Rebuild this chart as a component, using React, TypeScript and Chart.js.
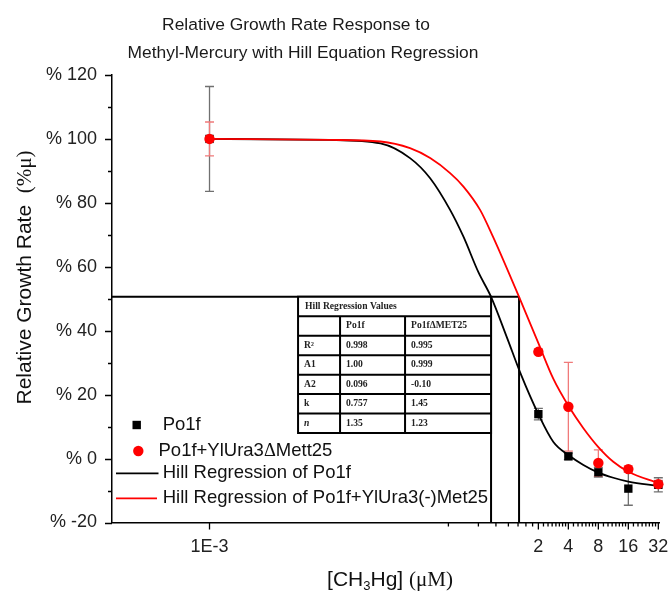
import React, { useEffect, useRef } from 'react';
import { Chart, registerables } from 'chart.js';

Chart.register(...registerables);

// ---------- text ----------
const titleLines = ['Relative Growth Rate Response to', 'Methyl-Mercury with Hill Equation Regression'];
const yTitleSans = 'Relative Growth Rate  ';
const yTitleSerif = '(%μ)';
const xTitleParts = ['[CH', '3', 'Hg] ', '(μM)'];

// ---------- axes ----------
const xMin = 1.05e-4;
const xMax = 32.5;
const xMajorTicks = [0.001, 2, 4, 8, 16, 32];
const xTickLabels = ['1E-3', '2', '4', '8', '16', '32'];
const xMinorTicks = [0.25, 0.5, 0.75, 1, 1.25, 1.5, 1.75,
  2.25, 2.5, 2.75, 3, 3.25, 3.5, 3.75,
  4.5, 5, 5.5, 6, 6.5, 7, 7.5,
  9, 10, 11, 12, 13, 14, 15,
  18, 20, 22, 24, 26, 28, 30];
const yMin = -20;
const yMax = 120;
const yMajorTicks = [-20, 0, 20, 40, 60, 80, 100, 120];
const yMinorTicks = [-10, 10, 30, 50, 70, 90, 110];

// ---------- measured data ----------
const doseX = [0.001, 2, 4, 8, 16, 32];
const po1fY = [100, 13.9, 0.7, -4.3, -9.4, -8.2];
const po1fErr = [16.4, 1.8, 1.0, 1.5, 5.2, 2.2];
const metY = [100, 33.4, 16.2, -1.4, -3.3, -8.0];
const metErr = [5.3, 0.8, 13.9, 4.1, 1.0, 1.2];

// ---------- regression curves ----------
const po1fFitX = [0.001, 0.016, 0.052, 0.103, 0.164, 0.26, 0.354, 0.5, 0.67, 0.964, 1.33, 2, 2.83, 4, 5.66, 8, 11.3, 16, 32];
const po1fFitY = [100, 99.7, 98.6, 94.0, 87.7, 77.8, 69.4, 58.3, 50.6, 38.0, 26.5, 13.9, 5.2, 1.1, -2.0, -4.4, -6.0, -7.2, -8.6];
const metFitX = [0.001, 0.016, 0.052, 0.103, 0.164, 0.26, 0.354, 0.52, 0.7, 1.0, 1.28, 2, 2.83, 4, 5.66, 8, 11.3, 16, 32];
const metFitY = [100, 99.7, 99.2, 97.1, 94.0, 89.3, 85.1, 77.8, 69.4, 58.4, 50.6, 36.1, 24.9, 16.5, 9.5, 3.6, -1.0, -4.1, -7.7];

// half-response drop lines
const dropY = 50.6;
const dropX = [0.67, 1.28];

// ---------- table ----------
const tableTitle = 'Hill Regression Values';
const tableHeader = ['', 'Po1f', 'Po1fΔMET25'];
const tableRowLabels = ['R²', 'A1', 'A2', 'k', 'n'];
const tablePo1f = ['0.998', '1.00', '0.096', '0.757', '1.35'];
const tableMet = ['0.995', '0.999', '-0.10', '1.45', '1.23'];

// ---------- legend ----------
const legendLabels = ['Po1f', 'Po1f+YlUra3ΔMett25', 'Hill Regression of Po1f', 'Hill Regression of Po1f+YlUra3(-)Met25'];

const SANS = "'Liberation Sans', Arial, sans-serif";
const SERIF = "'Liberation Serif', 'Times New Roman', serif";

function pts(xs: number[], ys: number[]) {
  return xs.map((x, i) => ({ x, y: ys[i] }));
}

function drawParts(ctx: CanvasRenderingContext2D, parts: { t: string; f: string; dy?: number }[], x: number, y: number) {
  let cx = x;
  for (const p of parts) {
    ctx.font = p.f;
    ctx.fillText(p.t, cx, y + (p.dy || 0));
    cx += ctx.measureText(p.t).width;
  }
  return cx - x;
}
function measureParts(ctx: CanvasRenderingContext2D, parts: { t: string; f: string }[]) {
  let w = 0;
  for (const p of parts) {
    ctx.font = p.f;
    w += ctx.measureText(p.t).width;
  }
  return w;
}

const overlay = {
  id: 'overlay',
  beforeDatasetsDraw(chart: any) {
    const { ctx, chartArea } = chart;
    const x = chart.scales.x;
    const y = chart.scales.y;
    ctx.save();
    // drop lines
    const yd = y.getPixelForValue(dropY);
    const xb = x.getPixelForValue(dropX[0]);
    const xr = x.getPixelForValue(dropX[1]);
    ctx.strokeStyle = '#000';
    ctx.lineWidth = 2;
    ctx.beginPath();
    ctx.moveTo(chartArea.left, yd);
    ctx.lineTo(xr, yd);
    ctx.moveTo(xb, yd);
    ctx.lineTo(xb, chartArea.bottom);
    ctx.moveTo(xr, yd);
    ctx.lineTo(xr, chartArea.bottom);
    ctx.stroke();

    const drawErr = (vals: number[], errs: number[], color: string) => {
      ctx.strokeStyle = color;
      ctx.lineWidth = 1.3;
      ctx.beginPath();
      doseX.forEach((dx, i) => {
        const px = x.getPixelForValue(dx);
        const top = y.getPixelForValue(vals[i] + errs[i]);
        const bot = y.getPixelForValue(vals[i] - errs[i]);
        ctx.moveTo(px, top);
        ctx.lineTo(px, bot);
        ctx.moveTo(px - 4.5, top);
        ctx.lineTo(px + 4.5, top);
        ctx.moveTo(px - 4.5, bot);
        ctx.lineTo(px + 4.5, bot);
      });
      ctx.stroke();
    };
    drawErr(po1fY, po1fErr, '#707070');
    drawErr(metY, metErr, '#f07a7a');
    ctx.restore();
  },
  afterDraw(chart: any) {
    const { ctx, chartArea } = chart;
    const x = chart.scales.x;
    const y = chart.scales.y;
    ctx.save();

    // tick marks
    ctx.strokeStyle = '#000';
    ctx.lineWidth = 1.3;
    ctx.beginPath();
    yMajorTicks.forEach((v) => {
      const py = Math.round(y.getPixelForValue(v)) + 0.5;
      ctx.moveTo(chartArea.left - 7, py);
      ctx.lineTo(chartArea.left, py);
    });
    yMinorTicks.forEach((v) => {
      const py = Math.round(y.getPixelForValue(v)) + 0.5;
      ctx.moveTo(chartArea.left - 4, py);
      ctx.lineTo(chartArea.left, py);
    });
    xMajorTicks.forEach((v) => {
      const px = x.getPixelForValue(v);
      ctx.moveTo(px, chartArea.bottom);
      ctx.lineTo(px, chartArea.bottom + 7);
    });
    xMinorTicks.forEach((v) => {
      const px = x.getPixelForValue(v);
      ctx.moveTo(px, chartArea.bottom);
      ctx.lineTo(px, chartArea.bottom + 4);
    });
    ctx.stroke();

    // table
    const yd = y.getPixelForValue(dropY);
    const xb = x.getPixelForValue(dropX[0]);
    const widths = [42, 65, 86];
    const tw = widths[0] + widths[1] + widths[2];
    const left = xb - tw;
    const rowH = 19.45;
    const nRows = 2 + tableRowLabels.length;
    const bottom = yd + rowH * nRows;
    ctx.fillStyle = '#fff';
    ctx.fillRect(left, yd, tw, rowH * nRows);
    ctx.strokeStyle = '#000';
    ctx.lineWidth = 2;
    ctx.beginPath();
    ctx.rect(left, yd, tw, rowH * nRows);
    for (let r = 1; r < nRows; r++) {
      ctx.moveTo(left, yd + r * rowH);
      ctx.lineTo(left + tw, yd + r * rowH);
    }
    ctx.moveTo(left + widths[0], yd + rowH);
    ctx.lineTo(left + widths[0], bottom);
    ctx.moveTo(left + widths[0] + widths[1], yd + rowH);
    ctx.lineTo(left + widths[0] + widths[1], bottom);
    ctx.stroke();

    ctx.fillStyle = '#222';
    ctx.textBaseline = 'middle';
    ctx.textAlign = 'left';
    const bold = `bold 9.6px ${SERIF}`;
    ctx.font = bold;
    ctx.fillText(tableTitle, left + 7, yd + rowH / 2);
    const colX = [left + 6, left + widths[0] + 6, left + widths[0] + widths[1] + 6];
    tableHeader.forEach((t, c) => ctx.fillText(t, colX[c], yd + rowH * 1.5));
    tableRowLabels.forEach((lab, r) => {
      const cy = yd + rowH * (r + 2.5);
      ctx.font = lab === 'n' ? `italic bold 9.6px ${SERIF}` : bold;
      ctx.fillText(lab, colX[0], cy);
      ctx.font = bold;
      ctx.fillText(tablePo1f[r], colX[1], cy);
      ctx.fillText(tableMet[r], colX[2], cy);
    });

    // legend
    const lf = `18.5px ${SANS}`;
    const lb = chartArea.bottom;
    const L = chartArea.left;
    ctx.fillStyle = '#000';
    ctx.fillRect(L + 24.7 - 4.2, lb - 97.5 - 4.2, 8.4, 8.4);
    ctx.fillStyle = '#ff0000';
    ctx.beginPath();
    ctx.arc(L + 26.3, lb - 71.5, 5.2, 0, Math.PI * 2);
    ctx.fill();
    ctx.lineWidth = 1.8;
    ctx.strokeStyle = '#000';
    ctx.beginPath();
    ctx.moveTo(L + 4, lb - 49.2);
    ctx.lineTo(L + 46.5, lb - 49.2);
    ctx.stroke();
    ctx.strokeStyle = '#ff0000';
    ctx.beginPath();
    ctx.moveTo(L + 4, lb - 24.2);
    ctx.lineTo(L + 45, lb - 24.2);
    ctx.stroke();
    ctx.fillStyle = '#111';
    ctx.font = lf;
    ctx.fillText(legendLabels[0], L + 50.7, lb - 97.5);
    const redParts = legendLabels[1].split('Δ');
    drawParts(ctx, [
      { t: redParts[0], f: lf },
      { t: 'Δ', f: `18.5px ${SERIF}` },
      { t: redParts[1], f: lf },
    ], L + 46.5, lb - 71.5);
    ctx.font = lf;
    ctx.fillText(legendLabels[2], L + 50.7, lb - 49.2);
    ctx.fillText(legendLabels[3], L + 50.7, lb - 24.2);

    // title
    ctx.fillStyle = '#1a1a1a';
    ctx.textAlign = 'center';
    ctx.font = `17.4px ${SANS}`;
    ctx.fillText(titleLines[0], 296, 25);
    ctx.fillText(titleLines[1], 303, 53);

    // y title
    ctx.textAlign = 'left';
    ctx.fillStyle = '#111';
    const yParts = [
      { t: yTitleSans, f: `21px ${SANS}` },
      { t: yTitleSerif, f: `21px ${SERIF}` },
    ];
    const yw = measureParts(ctx, yParts);
    ctx.save();
    ctx.translate(25, 277.5);
    ctx.rotate(-Math.PI / 2);
    drawParts(ctx, yParts, -yw / 2, 0);
    ctx.restore();

    // x title
    const xParts = [
      { t: xTitleParts[0], f: `21px ${SANS}` },
      { t: xTitleParts[1], f: `13px ${SANS}`, dy: 6 },
      { t: xTitleParts[2], f: `21px ${SANS}` },
      { t: xTitleParts[3], f: `21px ${SERIF}` },
    ];
    const xw = measureParts(ctx, xParts);
    drawParts(ctx, xParts, 390 - xw / 2, 580);

    ctx.restore();
  },
};

export default function App() {
  const ref = useRef<HTMLCanvasElement>(null);
  useEffect(() => {
    const canvas = ref.current;
    if (!canvas) return;
    const chart = new Chart(canvas, {
      type: 'scatter',
      data: {
        datasets: [
          {
            label: legendLabels[1],
            data: pts(doseX, metY),
            showLine: false,
            pointStyle: 'circle',
            pointRadius: 5.2,
            backgroundColor: '#ff0000',
            borderColor: '#ff0000',
            borderWidth: 0,
            order: 0,
            clip: false,
          },
          {
            label: legendLabels[0],
            data: pts(doseX, po1fY),
            showLine: false,
            pointStyle: 'rect',
            pointRadius: 5.9,
            backgroundColor: '#000',
            borderColor: '#000',
            borderWidth: 0,
            order: 1,
            clip: false,
          },
          {
            label: legendLabels[3],
            data: pts(metFitX, metFitY),
            showLine: true,
            pointRadius: 0,
            borderColor: '#ff0000',
            borderWidth: 1.8,
            cubicInterpolationMode: 'monotone',
            order: 2,
            clip: false,
          },
          {
            label: legendLabels[2],
            data: pts(po1fFitX, po1fFitY),
            showLine: true,
            pointRadius: 0,
            borderColor: '#000',
            borderWidth: 1.8,
            cubicInterpolationMode: 'monotone',
            order: 3,
            clip: false,
          },
        ],
      },
      options: {
        animation: false,
        responsive: false,
        devicePixelRatio: 1,
        events: [],
        layout: { padding: { left: 0, right: 12, top: 75, bottom: 0 } },
        plugins: {
          legend: { display: false },
          title: { display: false },
          tooltip: { enabled: false },
        },
        scales: {
          x: {
            type: 'logarithmic',
            min: xMin,
            max: xMax,
            afterBuildTicks: (scale: any) => {
              scale.ticks = xMajorTicks.map((v) => ({ value: v }));
            },
            afterFit: (scale: any) => {
              scale.height = 71.5;
              scale.paddingLeft = 0;
              scale.paddingRight = 0;
            },
            grid: { display: false, drawTicks: false },
            border: { display: true, color: '#000', width: 1.5 },
            ticks: {
              autoSkip: false,
              maxRotation: 0,
              padding: 14,
              color: '#222',
              font: { family: SANS, size: 18 },
              callback: (_v: any, i: number) => xTickLabels[i],
            },
          },
          y: {
            type: 'linear',
            min: yMin,
            max: yMax,
            afterBuildTicks: (scale: any) => {
              scale.ticks = yMajorTicks.map((v) => ({ value: v }));
            },
            afterFit: (scale: any) => {
              scale.width = 112;
              scale.paddingTop = 0;
              scale.paddingBottom = 0;
            },
            grid: { display: false, drawTicks: false },
            border: { display: true, color: '#000', width: 1.5 },
            ticks: {
              padding: 15,
              color: '#222',
              font: { family: SANS, size: 18 },
              callback: (v: any) => '% ' + v,
            },
          },
        },
      },
      plugins: [overlay],
    } as any);
    return () => chart.destroy();
  }, []);
  return (
    <div style={{ position: 'absolute', left: 0, top: 0, width: 671, height: 594, background: '#fff' }}>
      <canvas ref={ref} width={671} height={594} style={{ display: 'block', width: 671, height: 594 }} />
    </div>
  );
}
